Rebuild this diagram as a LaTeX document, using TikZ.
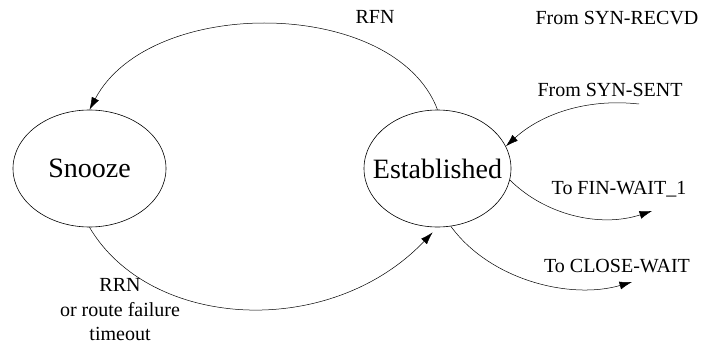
\documentclass[tikz,border=0pt]{standalone}
\usepackage{fontspec}
\setmainfont{Liberation Serif}
\usetikzlibrary{shapes.geometric,arrows.meta}
\begin{document}
\begin{tikzpicture}[x=1pt,y=-1pt,
  state/.style={draw,ellipse,inner sep=0pt,line width=0.6pt,font=\fontsize{28}{32}\selectfont},
  lbl/.style={font=\fontsize{20}{24.5}\selectfont,align=center,inner sep=0pt},
  conn/.style={line width=0.5pt,-{Latex[length=12.5pt,width=8pt]}}]
\useasboundingbox (0,0) rectangle (704,345);
\node[state,minimum width=153pt,minimum height=117pt] (snz) at (89.5,168.5) {\makebox[0pt]{Snooze}};
\node[state,minimum width=147pt,minimum height=117pt] (est) at (437.5,168.5) {\makebox[0pt]{Established}};
\node[lbl] (rfn) at (375,17) {RFN};
\node[lbl] (rrn) at (120,310) {RRN\\or route failure\\timeout};
\node[lbl] (recvd) at (617,18) {From SYN-RECVD};
\node[lbl] (sent) at (610,90) {From SYN-SENT};
\node[lbl] (fin) at (619,189) {To FIN-WAIT\_1};
\node[lbl] (close) at (617,266) {To CLOSE-WAIT};
\coordinate (sentstart) at (639,104);
\coordinate (finend) at (652,211);
\coordinate (closeend) at (632,282);
\draw[conn] (est.north) .. controls (395,-3) and (150,-5) .. (snz.north);
\draw[conn,shorten >=7pt] (snz.south) .. controls (150,330) and (330,340) .. (est.south);
\draw[conn] (sentstart) .. controls (585,98) and (540,115) .. (est.18);
\draw[conn] (est.-9) .. controls (545,215) and (600,228) .. (finend);
\draw[conn] (est.-77) .. controls (490,280) and (570,300) .. (closeend);
\end{tikzpicture}
\end{document}
